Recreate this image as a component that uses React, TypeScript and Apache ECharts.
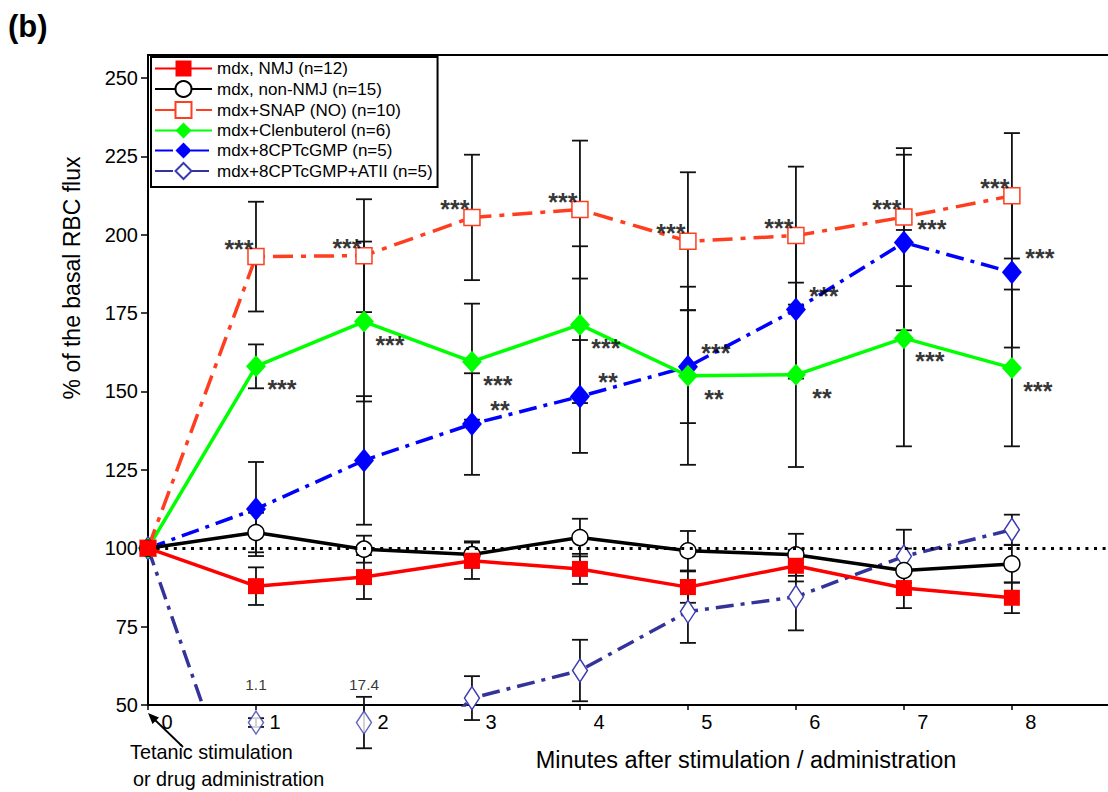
import React, { useEffect, useRef } from "react";
import * as echarts from "echarts";

const minutes = [0, 1, 2, 3, 4, 5, 6, 7, 8];
const yTicks = [50, 75, 100, 125, 150, 175, 200, 225, 250];

const seriesNames = [
  "mdx, NMJ (n=12)",
  "mdx, non-NMJ (n=15)",
  "mdx+SNAP (NO) (n=10)",
  "mdx+Clenbuterol (n=6)",
  "mdx+8CPTcGMP (n=5)",
  "mdx+8CPTcGMP+ATII (n=5)",
];

const nmjVals = [100, 87.9, 90.8, 96.0, 93.4, 87.6, 94.4, 87.3, 84.2];
const nmjErr = [0, 6, 7, 5.8, 4.8, 5, 5, 6.4, 4.9];
const nonNmjVals = [100, 105.0, 99.7, 98.0, 103.4, 99.2, 97.9, 92.9, 95.0];
const nonNmjErr = [0, 6.3, 4.3, 4.2, 6, 6.3, 6.7, 7, 6];
const snapVals = [100, 193.0, 193.3, 205.5, 208.0, 197.9, 199.7, 205.6, 212.4];
const snapErr = [0, 17.5, 18, 20, 22, 22, 22, 22, 20];
const clenVals = [100, 158.0, 172.3, 159.5, 171.3, 155.0, 155.3, 167.0, 157.5];
const clenErr = [0, 7, 25.5, 18.5, 25, 28.4, 29.4, 34.5, 25];
const cgmpVals = [100, 112.5, 128.0, 139.6, 148.4, 157.9, 176.1, 197.5, 188.0];
const cgmpErr = [0, 15, 20.5, 16.2, 18, 18, 22, 28, 24];
const atiiVals = [100, 1.1, 17.4, 52.2, 61.0, 79.8, 84.5, 97.4, 105.9];
const atiiErr = [0, 1.4, 8.2, 7, 9.8, 10, 10.7, 8.5, 4.8];

const snapSig = ["", "***", "***", "***", "***", "***", "***", "***", "***"];
const clenSig = ["", "***", "***", "***", "***", "**", "**", "***", "***"];
const cgmpSig = ["", "", "", "**", "**", "***", "***", "***", "***"];

const Y_MIN = 50;
const OFF_SCALE_Y = 44.4; // where off-scale points are drawn, below the axis

const FONT = "'Liberation Sans', Arial, Helvetica, sans-serif";

function pts(vals: number[]) {
  return minutes.map((m, i) => [m, vals[i]]);
}

function errData(vals: number[], errs: number[]) {
  return minutes
    .map((m, i) => [m, vals[i] < Y_MIN ? OFF_SCALE_Y : vals[i], errs[i]])
    .filter((d) => d[2] > 0);
}

function errorSeries(vals: number[], errs: number[]) {
  return {
    type: "custom",
    silent: true,
    z: 1,
    clip: false,
    encode: { x: 0, y: 1 },
    data: errData(vals, errs),
    renderItem: (params: any, api: any) => {
      const x = api.value(0);
      const y = api.value(1);
      const e = api.value(2);
      const top = api.coord([x, y + e]);
      const bot = api.coord([x, y - e]);
      const hw = 8;
      const st = { stroke: "#111", lineWidth: 1.8 };
      return {
        type: "group",
        children: [
          { type: "line", shape: { x1: top[0], y1: top[1], x2: bot[0], y2: bot[1] }, style: st },
          { type: "line", shape: { x1: top[0] - hw, y1: top[1], x2: top[0] + hw, y2: top[1] }, style: st },
          { type: "line", shape: { x1: bot[0] - hw, y1: bot[1], x2: bot[0] + hw, y2: bot[1] }, style: st },
        ],
      };
    },
  };
}

function sigSeries(vals: number[], sig: string[], offset: number[]) {
  return {
    type: "scatter",
    silent: true,
    clip: false,
    z: 6,
    symbolSize: 1,
    itemStyle: { color: "rgba(0,0,0,0)" },
    data: minutes.map((m, i) => [m, vals[i], sig[i]]).filter((d) => d[2] !== ""),
    label: {
      show: true,
      position: "inside",
      offset,
      formatter: (p: any) => p.value[2],
      color: "#000",
      textBorderWidth: 0,
      textBorderColor: "transparent",
      fontSize: 25,
      fontWeight: "bold",
      fontFamily: FONT,
    },
  };
}

function buildOption() {
  const dashDot = [18, 7, 4, 7];
  return {
    animation: false,
    backgroundColor: "#fff",
    grid: { left: 148, top: 55, right: 0, bottom: 87, containLabel: false },
    xAxis: {
      type: "value",
      min: 0,
      max: 8.89,
      axisLine: { onZero: false, lineStyle: { color: "#000", width: 2 } },
      axisTick: { show: true, length: 5, customValues: minutes, lineStyle: { color: "#000", width: 1.5 } },
      axisLabel: {
        customValues: minutes,
        color: "#000",
        fontSize: 20,
        fontFamily: FONT,
        margin: 7,
        padding: [0, 0, 0, 38],
      },
      splitLine: { show: false },
    },
    yAxis: {
      type: "value",
      min: Y_MIN,
      max: 257.3,
      axisLine: { onZero: false, lineStyle: { color: "#000", width: 2 } },
      axisTick: { show: true, length: 7, customValues: yTicks, lineStyle: { color: "#000", width: 1.5 } },
      axisLabel: { customValues: yTicks, color: "#000", fontSize: 20, fontFamily: FONT, margin: 10 },
      splitLine: { show: false },
    },
    legend: {
      show: true,
      data: seriesNames,
      orient: "vertical",
      left: 151,
      top: 57,
      padding: [3, 5, 7, 3],
      itemWidth: 57,
      itemHeight: 20,
      itemGap: 3,
      borderColor: "#000",
      borderWidth: 2,
      backgroundColor: "#fff",
      selectedMode: false,
      textStyle: { color: "#000", fontSize: 17, fontFamily: FONT },
    },
    graphic: [
      { type: "text", left: 8, top: 11, style: { text: "(b)", fontSize: 31, fontWeight: "bold", fontFamily: FONT, fill: "#000" } },
      { type: "line", shape: { x1: 147, y1: 55, x2: 1108, y2: 55 }, style: { stroke: "#000", lineWidth: 2 } },
      {
        type: "text",
        x: 72,
        y: 278,
        rotation: Math.PI / 2,
        style: { text: "% of the basal RBC flux", fontSize: 23, fontFamily: FONT, fill: "#000", align: "center", verticalAlign: "middle" },
      },
      {
        type: "text",
        x: 746,
        y: 760,
        style: { text: "Minutes after stimulation / administration", fontSize: 23.5, fontFamily: FONT, fill: "#000", align: "center", verticalAlign: "middle" },
      },
      { type: "text", x: 130, y: 752, style: { text: "Tetanic stimulation", fontSize: 19.8, fontFamily: FONT, fill: "#000", align: "left", verticalAlign: "middle" } },
      { type: "text", x: 133, y: 779, style: { text: "or drug administration", fontSize: 19.8, fontFamily: FONT, fill: "#000", align: "left", verticalAlign: "middle" } },
      { type: "line", shape: { x1: 183, y1: 747, x2: 154, y2: 719 }, style: { stroke: "#000", lineWidth: 1.8 } },
      { type: "polygon", shape: { points: [[148, 713], [159, 717.5], [152.5, 724]] }, style: { fill: "#000" } },
    ],
    series: [
      {
        name: seriesNames[5],
        type: "line",
        z: 2,
        data: pts(atiiVals),
        symbol: "diamond",
        symbolSize: [15, 23],
        lineStyle: { color: "#333399", width: 3.5, type: dashDot },
        itemStyle: { color: "#fff", borderColor: "#3b3bb0", borderWidth: 1.5 },
      },
      {
        name: seriesNames[4],
        type: "line",
        z: 3,
        data: pts(cgmpVals),
        symbol: "diamond",
        symbolSize: [20, 24],
        lineStyle: { color: "#0000ff", width: 3.5, type: dashDot },
        itemStyle: { color: "#0000ff", borderWidth: 0 },
      },
      {
        name: seriesNames[3],
        type: "line",
        z: 3,
        data: pts(clenVals),
        symbol: "diamond",
        symbolSize: [20, 22],
        lineStyle: { color: "#00ff00", width: 3.5, type: "solid" },
        itemStyle: { color: "#00ff00", borderWidth: 0 },
      },
      {
        name: seriesNames[2],
        type: "line",
        z: 3,
        data: pts(snapVals),
        symbol: "rect",
        symbolSize: 16,
        lineStyle: { color: "#ff3d1f", width: 3.5, type: [20, 8, 5, 8] },
        itemStyle: { color: "#fff", borderColor: "#ff3d1f", borderWidth: 1.5 },
      },
      {
        name: seriesNames[1],
        type: "line",
        z: 4,
        data: pts(nonNmjVals),
        symbol: "circle",
        symbolSize: 16,
        lineStyle: { color: "#000", width: 3.5, type: "solid" },
        itemStyle: { color: "#fff", borderColor: "#000", borderWidth: 1.5 },
        markLine: {
          silent: true,
          symbol: "none",
          label: { show: false },
          lineStyle: { color: "#000", width: 3, type: [3, 5.6] },
          data: [{ yAxis: 100 }],
        },
      },
      {
        name: seriesNames[0],
        type: "line",
        z: 5,
        data: pts(nmjVals),
        symbol: "rect",
        symbolSize: 16,
        lineStyle: { color: "#ff0000", width: 3.5, type: "solid" },
        itemStyle: { color: "#ff0000", borderWidth: 0 },
      },
      // off-scale ATII points drawn under the axis, labelled with their true values
      {
        type: "scatter",
        silent: true,
        clip: false,
        z: 4,
        symbol: "diamond",
        symbolSize: [15, 23],
        itemStyle: { color: "#fff", borderColor: "#3b3bb0", borderWidth: 1.5 },
        data: minutes.map((m, i) => [m, OFF_SCALE_Y, atiiVals[i]]).filter((d) => d[2] < Y_MIN),
        label: {
          show: true,
          position: "inside",
          offset: [0, -38],
          formatter: (p: any) => String(p.value[2]),
          color: "#000",
          textBorderWidth: 0,
          textBorderColor: "transparent",
          fontSize: 15.5,
          fontFamily: FONT,
        },
      },
      errorSeries(nmjVals, nmjErr),
      errorSeries(nonNmjVals, nonNmjErr),
      errorSeries(snapVals, snapErr),
      errorSeries(clenVals, clenErr),
      errorSeries(cgmpVals, cgmpErr),
      errorSeries(atiiVals, atiiErr),
      sigSeries(snapVals, snapSig, [-17, -8]),
      sigSeries(clenVals, clenSig, [26, 23]),
      sigSeries(cgmpVals, cgmpSig, [28, -14]),
    ],
  };
}

export default function App() {
  const ref = useRef<HTMLDivElement>(null);
  useEffect(() => {
    document.body.style.margin = "0";
    const chart = echarts.init(ref.current as HTMLDivElement, undefined, { renderer: "svg" });
    chart.setOption(buildOption() as any);
    return () => chart.dispose();
  }, []);
  return (
    <div
      ref={ref}
      style={{ position: "fixed", left: 0, top: 0, width: 1108, height: 792, background: "#fff" }}
    />
  );
}
